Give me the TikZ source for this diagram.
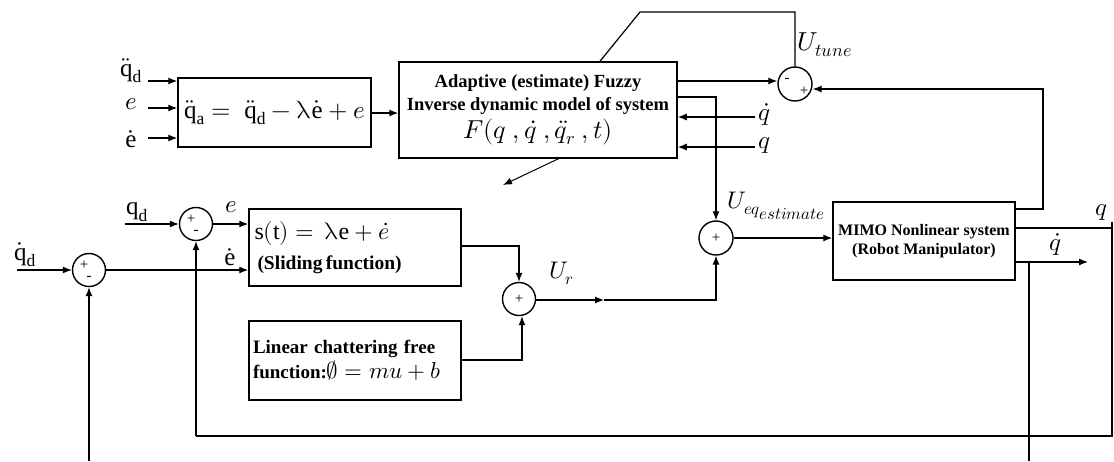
\documentclass[tikz,border=0pt]{standalone}
\usepackage{fontspec}
\usepackage{unicode-math}
\setmainfont{Liberation Serif}
\setmathfont{Latin Modern Math}
\usetikzlibrary{arrows.meta}
\begin{document}
\begin{tikzpicture}[x=1pt,y=-1pt,
  line width=1.2pt,
  arr/.style={-{Latex[length=9pt,width=7pt]}},
  blk/.style={draw,line width=1.5pt,rectangle,inner sep=0pt},
  sumc/.style={draw,line width=1.4pt,circle,inner sep=0pt,minimum size=33pt,font=\fontsize{15}{15}\selectfont},
  sgn/.style={font=\fontsize{15}{15}\selectfont,inner sep=0pt},
  lbl/.style={font=\fontsize{25}{25}\selectfont,inner sep=0pt},
  btxt/.style={font=\fontsize{18.5}{23}\selectfont\bfseries,align=center,inner sep=0pt}]
\useasboundingbox (0,0) rectangle (1114,461);

% blocks
\node[blk,minimum width=193pt,minimum height=69pt,font=\fontsize{25}{25}\selectfont] (b1) at (274.5,112.5)
  {$\ddot{\mathrm q}_{\mathrm a} =\ \ddot{\mathrm q}_{\mathrm d} - \uplambda\dot{\mathrm e} + e$};
\node[blk,minimum width=278pt,minimum height=96pt,align=center,font=\fontsize{18.5}{23}\selectfont\bfseries] (b2) at (538,110)
  {Adaptive (estimate) Fuzzy\\Inverse dynamic model of system\\[3pt]{\fontsize{26}{26}\selectfont\mdseries$F(q\ ,\dot q\ ,\ddot q_r\ ,t)$}};
\node[blk,minimum width=212pt,minimum height=77pt,align=left,text width=201pt] (b3) at (355,247.5)
  {{\fontsize{24}{24}\selectfont$\mathrm{s(t)} =\ \uplambda\mathrm{e} + \dot e$}\\[9pt]{\fontsize{19.5}{23}\selectfont\bfseries\hspace*{3pt}(Sliding function)}};
\node[blk,minimum width=212pt,minimum height=79pt,align=left,text width=204pt,font=\fontsize{19}{25}\selectfont\bfseries] (b4) at (355,360.5)
  {Linear chattering free\\function:{\fontsize{23}{25}\selectfont\mdseries$\emptyset = mu + b$}};
\node[blk,minimum width=182pt,minimum height=78pt,align=center,font=\fontsize{16}{19}\selectfont\bfseries] (b5) at (924,241)
  {MIMO Nonlinear system\\(Robot Manipulator)};

% summing junctions
\node[sumc,minimum size=34pt] (ct) at (795,84) {};
\node[sgn] at (787,80) {-};
\node[sgn] at (804,91) {+};
\node[sumc,minimum size=34pt] (cq) at (716,238) {+};
\node[sumc] (cr) at (519,299) {+};
\node[sumc] (ce) at (196,224) {};
\node[sgn] at (191,219) {+};
\node[sgn] at (196,232) {-};
\node[sumc] (cd) at (89,270) {};
\node[sgn] at (84,265) {+};
\node[sgn] at (89,278) {-};

% inputs of block 1
\coordinate (i1) at (148,81);
\coordinate (i2) at (148,108);
\coordinate (i3) at (148,138);
\draw[arr] (i1) -- (i1 -| b1.west);
\draw[arr] (i2) -- (i2 -| b1.west);
\draw[arr] (i3) -- (i3 -| b1.west);
\node[lbl] at (131,71) {$\ddot{\mathrm q}_{\mathrm d}$};
\node[lbl] at (131,104) {$e$};
\node[lbl] at (131,139) {$\dot{\mathrm e}$};
\draw[arr] (b1.east |- 0,113) -- (b2.west |- 0,113);

% block 2 outputs / inputs
\draw[arr] (b2.east |- 0,81) -- (ct.west |- 0,81);
\coordinate (tp) at (640,12);
\draw (b2.north -| 600,0) -- (tp) -- (tp -| ct.north) -- (ct.north);
\node[lbl,anchor=west,font=\fontsize{26}{26}\selectfont] at (797,45) {$U_{tune}$};
\coordinate (j1) at (716,97);
\draw[arr] (b2.east |- j1) -- (j1) -- (cq.north);
\coordinate (qi1) at (755,117);
\coordinate (qi2) at (755,147);
\draw[arr] (qi1) -- (qi1 -| b2.east);
\draw[arr] (qi2) -- (qi2 -| b2.east);
\node[lbl,anchor=west] at (758,114) {$\dot q$};
\node[lbl,anchor=west] at (758,145) {$q$};
\coordinate (dg1) at (560,158);
\coordinate (dg2) at (503,185);
\draw[arr,line width=1pt] (dg1) -- (dg2);

% feedback to U_tune
\coordinate (f1) at (1043,209);
\draw[arr] (b5.east |- f1) -- (f1) -- (f1 |- 0,89) -- (ct.east |- 0,89);

% Ueq sum
\draw[arr] (cq.east) -- (b5.west |- cq.east);
\node[lbl,anchor=west,font=\fontsize{24}{24}\selectfont] at (727,206) {$U_{eq_{\scriptstyle estimate}}$};

% U_r sum
\coordinate (s1) at (519,246);
\draw[arr] (b3.east |- s1) -- (s1) -- (cr.north);
\coordinate (s2) at (522,360);
\draw[arr] (b4.east |- s2) -- (s2) -- (cr.south -| s2);
\coordinate (m1) at (604,300);
\draw[arr] (cr.east |- m1) -- (m1);
\draw[arr] (m1) -- (m1 -| cq.south) -- (cq.south);
\node[lbl,anchor=west,font=\fontsize{24}{24}\selectfont] at (549,273) {$U_r$};

% error junctions
\coordinate (qdin) at (125,224);
\draw[arr] (qdin) -- (ce.west);
\node[lbl] at (137,212) {$\mathrm q_{\mathrm d}$};
\draw[arr] (ce.east) -- (ce.east -| b3.west);
\node[lbl] at (231,207) {$e$};
\coordinate (qddin) at (17,270);
\draw[arr] (qddin) -- (cd.west);
\node[lbl] at (25,255) {$\dot{\mathrm q}_{\mathrm d}$};
\draw[arr] (cd.east) -- (cd.east -| b3.west);
\node[lbl] at (230,257) {$\dot{\mathrm e}$};

% outputs of MIMO
\coordinate (qo) at (1112,228);
\draw (b5.east |- qo) -- (qo);
\node[lbl] at (1101,212) {$q$};
\coordinate (qdo) at (1088,262);
\draw[arr] (b5.east |- qdo) -- (qdo);
\node[lbl] at (1055,244) {$\dot q$};
\coordinate (v1) at (1029,262);
\coordinate (v1b) at (1029,461);
\draw (v1) -- (v1b);

% bottom feedback
\coordinate (fb) at (1112,436);
\coordinate (fbl) at (196,436);
\coordinate (qtop) at (1112,222);
\draw (qtop) -- (fb) -- (fbl);
\draw[arr] (fbl) -- (ce.south);
\coordinate (fd) at (89,461);
\draw[arr] (fd) -- (cd.south);
\end{tikzpicture}
\end{document}
